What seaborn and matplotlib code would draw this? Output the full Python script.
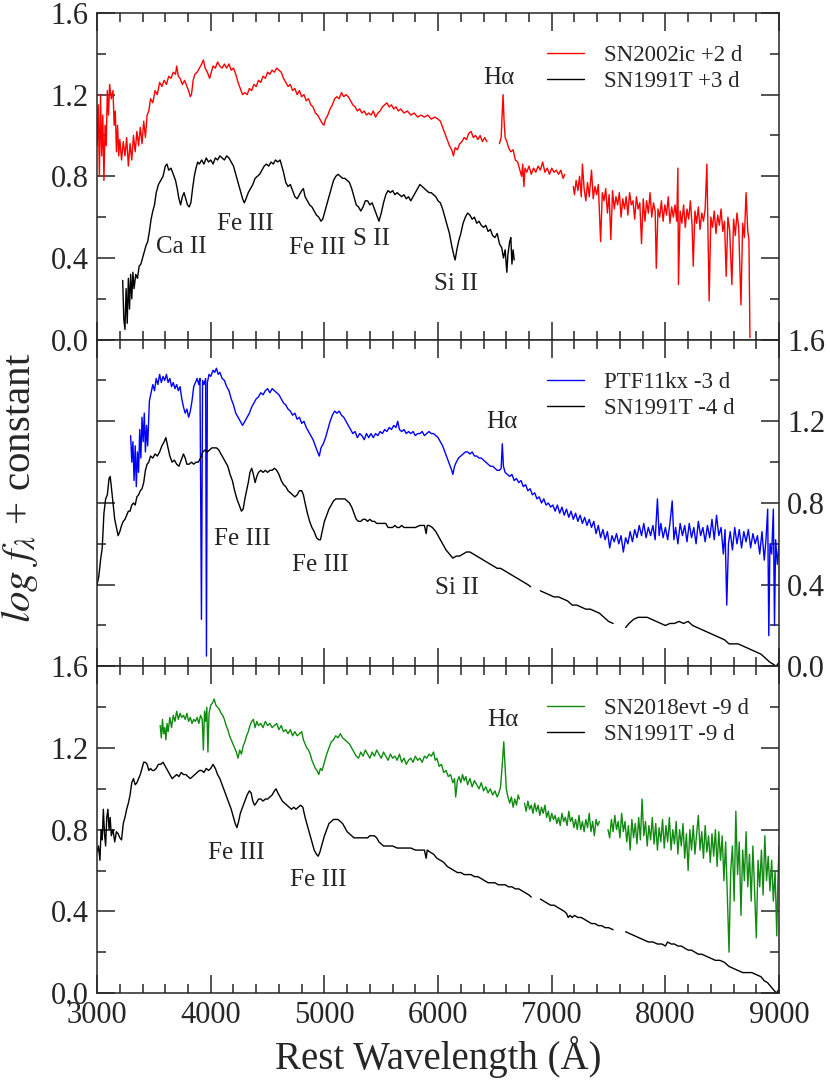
import numpy as np
import pandas as pd
import seaborn as sns
import matplotlib.pyplot as plt
from matplotlib.lines import Line2D
from matplotlib.ticker import MultipleLocator

nan = np.nan

# ---- top panel: SN2002ic +2 d and SN1991T +3 d ----
ic02_wave = [3000, 3010, 3020, 3030, 3040, 3050, 3060, 3070, 3080, 3090, 3100, 3110, 3125, 3140, 3150,
             3160, 3170, 3180, 3190, 3200, 3215, 3230, 3245, 3260, 3275, 3290, 3305, 3320, 3335, 3350,
             3365, 3380, 3395, 3410, 3425, 3440, 3455, 3470, 3490, 3510, 3530, 3550, 3570, 3590, 3610,
             3630, 3650, 3670, 3690, 3700, 3715, 3730, 3750, 3770, 3790, 3805, 3820, 3830, 3845, 3860,
             3880, 3900, 3920, 3935, 3950, 3970, 3990, 4005, 4020, 4040, 4060, 4080, 4100, 4120, 4140,
             4160, 4180, 4200, 4220, 4240, 4260, 4280, 4300, 4320, 4340, 4360, 4380, 4400, 4420, 4440,
             4460, 4480, 4500, 4520, 4540, 4560, 4580, 4600, 4620, 4640, 4660, 4680, 4700, 4720, 4740,
             4760, 4780, 4800, 4820, 4840, 4860, 4880, 4900, 4920, 4940, 4960, 4980, 4995, 5010, 5030,
             5050, 5070, 5090, 5110, 5130, 5150, 5170, 5190, 5210, 5230, 5250, 5270, 5290, 5310, 5330,
             5350, 5370, 5390, 5410, 5430, 5450, 5470, 5490, 5510, 5530, 5550, 5570, 5590, 5610, 5630,
             5650, 5670, 5700, 5730, 5760, 5790, 5820, 5850, 5880, 5910, 5940, 5970, 6000, 6020, 6040,
             6060, 6080, 6100, 6120, 6135, 6150, 6170, 6190, 6210, 6230, 6250, 6270, 6290, 6310, 6330,
             6350, 6370, 6390, 6410, 6430, nan,
             6540, 6555, 6565, 6572, 6580, 6590, 6605, 6620, 6640, 6660, 6680, 6700, 6720, 6735, 6745,
             6755, 6765, 6780, 6800, 6820, 6840, 6860, 6880, 6900, 6920, 6940, 6960, 6980, 7000, 7020,
             7040, 7060, 7080, 7100, 7115, nan,
             7190, 7200, 7215, 7230, 7245, 7260, 7270, 7285, 7300, 7315, 7330, 7350, 7365, 7380, 7395,
             7410, 7430, 7445, 7460, 7475, 7490, 7505, 7520, 7535, 7550, 7565, 7580, 7595, 7610, 7625,
             7640, 7655, 7670, 7685, 7700, 7715, 7730, 7745, 7760, 7775, 7790, 7805, 7820, 7835, 7850,
             7865, 7880, 7895, 7910, 7920, 7935, 7950, 7965, 7980, 7995, 8010, 8025, 8040, 8055, 8070,
             8085, 8100, 8110, 8115, 8130, 8145, 8160, 8175, 8190, 8205, 8220, 8235, 8245, 8260, 8275,
             8290, 8305, 8320, 8335, 8350, 8365, 8385, 8400, 8415, 8430, 8445, 8460, 8475, 8490, 8505,
             8520, 8535, 8550, 8565, 8585, 8600, 8615, 8630, 8645, 8665, 8680, 8695, 8710, 8725, 8735,
             8744]
ic02_flux = [0.95, 1.15, 0.80, 1.20, 0.90, 1.10, 0.78, 1.05, 0.95, 1.22, 1.10, 1.25, 1.18, 1.22, 1.05,
             1.12, 0.92, 1.05, 0.90, 0.98, 0.88, 0.97, 0.90, 0.99, 0.85, 0.96, 0.88, 1.00, 0.92, 1.02,
             0.95, 1.04, 0.96, 1.07, 0.99, 1.10, 1.12, 1.18, 1.16, 1.22, 1.20, 1.26, 1.24, 1.27, 1.25,
             1.29, 1.28, 1.31, 1.30, 1.34, 1.29, 1.28, 1.25, 1.27, 1.24, 1.22, 1.19, 1.20, 1.27, 1.30,
             1.31, 1.33, 1.35, 1.37, 1.33, 1.31, 1.28, 1.31, 1.34, 1.33, 1.36, 1.34, 1.33, 1.35, 1.33,
             1.35, 1.32, 1.33, 1.30, 1.26, 1.23, 1.20, 1.21, 1.20, 1.23, 1.22, 1.25, 1.24, 1.27, 1.26,
             1.29, 1.28, 1.31, 1.30, 1.32, 1.31, 1.33, 1.32, 1.31, 1.28, 1.26, 1.24, 1.25, 1.22, 1.23,
             1.20, 1.22, 1.19, 1.20, 1.17, 1.18, 1.15, 1.14, 1.11, 1.10, 1.08, 1.06, 1.05, 1.08, 1.10,
             1.13, 1.15, 1.18, 1.19, 1.18, 1.21, 1.19, 1.20, 1.19, 1.17, 1.15, 1.14, 1.12, 1.13, 1.11,
             1.12, 1.10, 1.11, 1.10, 1.12, 1.09, 1.11, 1.12, 1.14, 1.15, 1.16, 1.14, 1.15, 1.13, 1.14,
             1.12, 1.13, 1.11, 1.12, 1.10, 1.11, 1.09, 1.10, 1.09, 1.10, 1.08, 1.09, 1.08, 1.07, 1.04,
             1.01, 0.98, 0.95, 0.93, 0.90, 0.94, 0.93, 0.96, 0.97, 0.99, 0.98, 1.01, 1.02, 0.99, 1.00,
             0.98, 1.00, 0.97, 0.99, 0.97, nan,
             0.96, 0.99, 1.12, 1.20, 1.08, 0.99, 0.97, 0.94, 0.92, 0.93, 0.88, 0.87, 0.83, 0.80, 0.86,
             0.75, 0.84, 0.82, 0.85, 0.81, 0.84, 0.82, 0.85, 0.83, 0.87, 0.82, 0.84, 0.81, 0.84, 0.82,
             0.83, 0.81, 0.83, 0.79, 0.81, nan,
             0.75, 0.71, 0.78, 0.73, 0.80, 0.70, 0.86, 0.74, 0.68, 0.77, 0.70, 0.83, 0.69, 0.75, 0.71,
             0.76, 0.48, 0.72, 0.68, 0.74, 0.62, 0.71, 0.49, 0.73, 0.64, 0.70, 0.66, 0.72, 0.60, 0.69,
             0.64, 0.70, 0.61, 0.72, 0.66, 0.68, 0.59, 0.70, 0.64, 0.67, 0.47, 0.69, 0.58, 0.68, 0.62,
             0.72, 0.60, 0.67, 0.63, 0.35, 0.64, 0.60, 0.68, 0.58, 0.66, 0.61, 0.70, 0.57, 0.65, 0.60,
             0.66, 0.58, 0.84, 0.27, 0.63, 0.57, 0.66, 0.55, 0.64, 0.59, 0.68, 0.56, 0.36, 0.63, 0.57,
             0.65, 0.54, 0.62, 0.58, 0.64, 0.86, 0.19, 0.60, 0.55, 0.63, 0.52, 0.61, 0.56, 0.64, 0.53,
             0.58, 0.31, 0.60, 0.54, 0.27, 0.59, 0.51, 0.62, 0.55, 0.17, 0.57, 0.50, 0.72, 0.53, 0.49,
             0.01]

t91_p3_wave = [3225, 3235, 3245, 3255, 3265, 3275, 3285, 3295, 3305, 3315, 3325, 3340, 3355, 3370, 3385,
               3400, 3415, 3430, 3445, 3460, 3475, 3490, 3505, 3520, 3540, 3560, 3580, 3600, 3615, 3630,
               3650, 3670, 3690, 3705, 3720, 3735, 3750, 3765, 3780, 3795, 3810, 3825, 3840, 3855, 3870,
               3885, 3900, 3920, 3940, 3960, 3980, 4000, 4020, 4040, 4060, 4080, 4100, 4120, 4140, 4160,
               4180, 4200, 4220, 4240, 4260, 4280, 4295, 4310, 4330, 4350, 4370, 4390, 4410, 4430, 4450,
               4470, 4490, 4510, 4530, 4550, 4570, 4590, 4610, 4625, 4640, 4660, 4680, 4700, 4720, 4740,
               4760, 4780, 4800, 4815, 4830, 4850, 4870, 4890, 4910, 4930, 4950, 4970, 4985, 5000, 5020,
               5040, 5060, 5080, 5100, 5120, 5140, 5160, 5180, 5200, 5220, 5240, 5260, 5280, 5300, 5320,
               5340, 5360, 5380, 5400, 5420, 5440, 5460, 5480, 5500, 5520, 5540, 5560, 5580, 5600, 5620,
               5640, 5660, 5680, 5700, 5720, 5740, 5760, 5780, 5800, 5820, 5840, 5860, 5880, 5900, 5920,
               5940, 5960, 5980, 6000, 6020, 6040, 6060, 6080, 6100, 6120, 6140, 6150, 6165, 6180, 6200,
               6220, 6240, 6260, 6280, 6300, 6320, 6340, 6360, 6380, 6400, 6420, 6440, 6460, 6480, 6500,
               6520, 6540, 6560, 6575, 6590, 6605, 6615, 6630, 6640, 6650, 6660, 6670]
t91_p3_flux = [0.29, 0.10, 0.05, 0.25, 0.08, 0.30, 0.15, 0.32, 0.20, 0.33, 0.25, 0.32, 0.30, 0.36, 0.37,
               0.40, 0.43, 0.46, 0.48, 0.53, 0.59, 0.63, 0.66, 0.72, 0.76, 0.78, 0.80, 0.85, 0.86, 0.83,
               0.84, 0.81, 0.78, 0.74, 0.69, 0.66, 0.70, 0.72, 0.69, 0.66, 0.65, 0.67, 0.74, 0.80, 0.84,
               0.87, 0.86, 0.88, 0.86, 0.89, 0.87, 0.88, 0.86, 0.89, 0.88, 0.90, 0.89, 0.88, 0.90, 0.89,
               0.87, 0.85, 0.81, 0.77, 0.73, 0.69, 0.67, 0.69, 0.72, 0.74, 0.76, 0.79, 0.80, 0.81, 0.83,
               0.85, 0.86, 0.85, 0.87, 0.86, 0.88, 0.87, 0.88, 0.85, 0.82, 0.77, 0.75, 0.76, 0.73, 0.70,
               0.69, 0.71, 0.73, 0.74, 0.70, 0.68, 0.66, 0.65, 0.63, 0.61, 0.60, 0.58, 0.59, 0.62, 0.66,
               0.70, 0.74, 0.78, 0.80, 0.81, 0.80, 0.79, 0.79, 0.78, 0.77, 0.74, 0.70, 0.66, 0.65, 0.63,
               0.65, 0.68, 0.68, 0.66, 0.67, 0.64, 0.61, 0.58, 0.62, 0.67, 0.71, 0.73, 0.72, 0.73, 0.71,
               0.72, 0.71, 0.70, 0.71, 0.69, 0.70, 0.68, 0.70, 0.72, 0.74, 0.76, 0.75, 0.74, 0.73, 0.72,
               0.72, 0.71, 0.70, 0.68, 0.67, 0.64, 0.60, 0.56, 0.52, 0.46, 0.41, 0.39, 0.44, 0.48, 0.52,
               0.57, 0.60, 0.62, 0.61, 0.59, 0.60, 0.57, 0.58, 0.56, 0.55, 0.56, 0.53, 0.54, 0.51, 0.50,
               0.52, 0.47, 0.45, 0.40, 0.44, 0.33, 0.42, 0.48, 0.50, 0.37, 0.44, 0.39]

# ---- middle panel: PTF11kx -3 d and SN1991T -4 d ----
ptf_wave = [3295, 3305, 3315, 3325, 3335, 3345, 3355, 3365, 3375, 3385, 3395, 3405, 3415, 3425, 3435,
            3445, 3460, 3475, 3490, 3505, 3520, 3535, 3550, 3565, 3580, 3595, 3610, 3625, 3640, 3655,
            3670, 3685, 3700, 3715, 3730, 3745, 3760, 3775, 3790, 3805, 3820, 3835, 3850, 3865, 3880,
            3895, 3905, 3918, 3928, 3940, 3955, 3962, 3970, 3985, 4000, 4020, 4035, 4050, 4065, 4080,
            4100, 4120, 4140, 4160, 4180, 4200, 4220, 4240, 4260, 4280, 4300, 4320, 4340, 4360, 4380,
            4400, 4420, 4440, 4460, 4480, 4500, 4520, 4540, 4560, 4580, 4600, 4620, 4640, 4660, 4680,
            4700, 4720, 4740, 4760, 4780, 4800, 4820, 4840, 4860, 4880, 4900, 4920, 4940, 4955, 4970,
            4990, 5010, 5030, 5050, 5070, 5090, 5110, 5130, 5150, 5170, 5190, 5210, 5230, 5250, 5270,
            5290, 5310, 5330, 5350, 5370, 5390, 5410, 5430, 5450, 5470, 5490, 5510, 5530, 5550, 5570,
            5590, 5610, 5630, 5645, 5660, 5680, 5700, 5720, 5740, 5760, 5780, 5800, 5820, 5840, 5860,
            5880, 5900, 5920, 5940, 5960, 5980, 6000, 6020, 6040, 6060, 6080, 6100, 6120, 6130, 6145,
            6160, 6180, 6200, 6220, 6240, 6260, 6280, 6300, 6320, 6340, 6360, 6380, 6400, 6420, 6440,
            6460, 6480, 6500, 6520, 6540, 6555, 6565, 6575, 6590, 6610, 6630, 6650, 6670, 6690, 6710,
            6730, 6750, 6770, 6790, 6810, 6830, 6850, 6870, 6890, 6910, 6930, 6950, 6970, 6990, 7010,
            7030, 7050, 7070, 7090, 7110, 7130, 7150, 7170, 7190, 7210, 7230, 7250, 7270, 7290, 7310,
            7330, 7350, 7370, 7390, 7410, 7430, 7450, 7470, 7490, 7510, 7530, 7550, 7570, 7590, 7610,
            7630, 7650, 7670, 7690, 7710, 7730, 7750, 7770, 7790, 7810, 7830, 7850, 7870, 7890, 7910,
            7930, 7945, 7960, 7980, 8000, 8020, 8040, 8060, 8075, 8090, 8110, 8130, 8150, 8170, 8190,
            8210, 8230, 8250, 8270, 8290, 8310, 8330, 8350, 8370, 8390, 8410, 8430, 8450, 8470, 8490,
            8510, 8525, 8540, 8555, 8570, 8590, 8610, 8630, 8650, 8670, 8690, 8710, 8730, 8750, 8770,
            8790, 8810, 8830, 8850, 8870, 8885, 8900, 8910, 8920, 8935, 8950, 8960, 8970, 8985, 9000]
ptf_flux = [1.13, 1.00, 1.10, 0.91, 1.08, 0.88, 1.05, 0.95, 1.16, 1.02, 1.22, 1.10, 1.24, 1.05, 1.18,
            1.08, 1.30, 1.34, 1.38, 1.35, 1.41, 1.38, 1.43, 1.39, 1.42, 1.40, 1.43, 1.39, 1.41, 1.37,
            1.39, 1.36, 1.38, 1.35, 1.37, 1.31, 1.27, 1.24, 1.26, 1.22, 1.25, 1.30, 1.37, 1.39, 1.41,
            1.38, 1.41, 0.23, 1.40, 1.38, 1.41, 0.05, 1.39, 1.43, 1.42, 1.45, 1.44, 1.46, 1.43, 1.44,
            1.41, 1.40, 1.37, 1.35, 1.31, 1.28, 1.24, 1.22, 1.20, 1.18, 1.20, 1.22, 1.24, 1.27, 1.29,
            1.31, 1.32, 1.34, 1.33, 1.35, 1.36, 1.34, 1.36, 1.35, 1.34, 1.33, 1.31, 1.29, 1.28, 1.26,
            1.25, 1.23, 1.24, 1.21, 1.22, 1.19, 1.20, 1.17, 1.15, 1.13, 1.11, 1.08, 1.05, 1.03, 1.07,
            1.09, 1.12, 1.16, 1.20, 1.23, 1.25, 1.24, 1.25, 1.23, 1.22, 1.20, 1.18, 1.16, 1.14, 1.15,
            1.12, 1.14, 1.13, 1.11, 1.14, 1.12, 1.14, 1.12, 1.14, 1.13, 1.15, 1.14, 1.16, 1.15, 1.17,
            1.16, 1.18, 1.17, 1.20, 1.16, 1.15, 1.16, 1.14, 1.15, 1.14, 1.15, 1.13, 1.14, 1.14, 1.15,
            1.13, 1.14, 1.15, 1.14, 1.14, 1.13, 1.12, 1.10, 1.08, 1.05, 1.02, 0.99, 0.96, 0.94, 0.98,
            1.00, 1.02, 1.03, 1.04, 1.05, 1.05, 1.04, 1.05, 1.03, 1.03, 1.02, 1.02, 1.01, 1.00, 0.99,
            0.98, 0.98, 0.97, 0.96, 0.96, 0.97, 1.09, 0.98, 0.95, 0.94, 0.93, 0.94, 0.91, 0.92, 0.90,
            0.91, 0.88, 0.89, 0.86, 0.87, 0.84, 0.85, 0.82, 0.83, 0.80, 0.82, 0.79, 0.80, 0.78, 0.79,
            0.76, 0.79, 0.75, 0.78, 0.74, 0.77, 0.73, 0.76, 0.72, 0.75, 0.71, 0.74, 0.70, 0.73, 0.69,
            0.72, 0.68, 0.71, 0.65, 0.69, 0.63, 0.67, 0.62, 0.66, 0.58, 0.64, 0.61, 0.65, 0.60, 0.64,
            0.56, 0.63, 0.60, 0.66, 0.61, 0.67, 0.63, 0.69, 0.64, 0.70, 0.63, 0.68, 0.64, 0.69, 0.62,
            0.82, 0.64, 0.70, 0.63, 0.68, 0.62, 0.70, 0.81, 0.62, 0.68, 0.60, 0.70, 0.64, 0.69, 0.61,
            0.70, 0.63, 0.68, 0.60, 0.71, 0.64, 0.68, 0.61, 0.69, 0.63, 0.72, 0.62, 0.74, 0.64, 0.68,
            0.55, 0.67, 0.30, 0.60, 0.66, 0.57, 0.68, 0.60, 0.67, 0.58, 0.66, 0.61, 0.67, 0.58, 0.65,
            0.60, 0.64, 0.55, 0.66, 0.52, 0.62, 0.77, 0.15, 0.60, 0.55, 0.77, 0.20, 0.62, 0.50, 0.60]

t91_m4_wave = [3000, 3015, 3030, 3045, 3060, 3075, 3090, 3105, 3115, 3125, 3140, 3155, 3170, 3185, 3200,
               3215, 3230, 3245, 3260, 3275, 3290, 3305, 3320, 3335, 3350, 3365, 3380, 3395, 3410, 3425,
               3440, 3455, 3470, 3490, 3510, 3530, 3550, 3570, 3590, 3605, 3620, 3640, 3660, 3680, 3700,
               3720, 3740, 3760, 3775, 3790, 3810, 3830, 3850, 3870, 3890, 3910, 3930, 3950, 3970, 3990,
               4010, 4030, 4050, 4070, 4090, 4110, 4130, 4150, 4170, 4190, 4210, 4230, 4250, 4270, 4285,
               4300, 4315, 4330, 4345, 4360, 4375, 4390, 4405, 4420, 4440, 4460, 4480, 4500, 4520, 4540,
               4560, 4580, 4600, 4620, 4640, 4660, 4680, 4700, 4720, 4740, 4760, 4780, 4800, 4815, 4830,
               4850, 4870, 4890, 4910, 4930, 4950, 4965, 4980, 5000, 5020, 5040, 5060, 5080, 5100, 5120,
               5140, 5160, 5180, 5200, 5220, 5240, 5260, 5280, 5300, 5320, 5340, 5360, 5380, 5400, 5420,
               5440, 5460, 5480, 5500, 5520, 5540, 5560, 5580, 5600, 5620, 5640, 5660, 5680, 5700, 5720,
               5740, 5760, 5800, 5840, 5880, 5895, 5905, 5920, 5950, 5980, 6010, 6040, 6070, 6100, 6130,
               6160, 6190, 6220, 6250, 6280, 6310, 6340, 6370, 6400, 6430, 6460, 6490, 6520, 6550, 6580,
               6610, 6640, 6670, 6700, 6730, 6760, 6790, 6815, nan,
               6900, 6940, 6980, 7020, 7060, 7100, 7140, 7180, 7220, 7260, 7300, 7340, 7380, 7420, 7460,
               7500, 7540, nan,
               7650, 7680, 7720, 7760, 7800, 7840, 7880, 7920, 7960, 8000, 8040, 8080, 8120, 8160, 8200,
               8240, 8280, 8320, 8360, 8400, 8440, 8480, 8520, 8560, 8600, 8640, 8680, 8720, 8760, 8800,
               8840, 8880, 8920, 8950, 8975, 9000]
t91_m4_flux = [0.40, 0.44, 0.52, 0.58, 0.75, 0.82, 0.84, 0.92, 0.93, 0.88, 0.80, 0.72, 0.68, 0.64, 0.66,
               0.69, 0.71, 0.72, 0.74, 0.76, 0.76, 0.79, 0.80, 0.79, 0.83, 0.84, 0.86, 0.87, 0.90, 0.96,
               0.99, 1.00, 1.03, 1.02, 1.04, 1.03, 1.05, 1.08, 1.10, 1.12, 1.08, 1.03, 1.00, 1.01, 0.99,
               0.98, 1.01, 1.04, 1.02, 0.99, 0.99, 1.00, 0.99, 1.00, 1.00, 1.02, 1.05, 1.06, 1.05, 1.06,
               1.07, 1.07, 1.07, 1.06, 1.04, 1.02, 1.00, 0.98, 0.94, 0.91, 0.86, 0.82, 0.79, 0.76, 0.77,
               0.82, 0.86, 0.90, 0.95, 0.97, 0.94, 0.90, 0.93, 0.95, 0.96, 0.95, 0.96, 0.95, 0.96, 0.96,
               0.97, 0.96, 0.94, 0.91, 0.89, 0.88, 0.86, 0.85, 0.84, 0.83, 0.84, 0.86, 0.86, 0.84, 0.80,
               0.75, 0.71, 0.68, 0.66, 0.63, 0.62, 0.62, 0.66, 0.71, 0.74, 0.77, 0.79, 0.81, 0.82, 0.82,
               0.82, 0.82, 0.82, 0.81, 0.80, 0.78, 0.75, 0.72, 0.71, 0.71, 0.72, 0.72, 0.71, 0.72, 0.71,
               0.71, 0.70, 0.70, 0.70, 0.70, 0.70, 0.68, 0.68, 0.68, 0.69, 0.68, 0.68, 0.69, 0.68, 0.68,
               0.68, 0.68, 0.68, 0.69, 0.69, 0.65, 0.69, 0.69, 0.68, 0.66, 0.63, 0.60, 0.57, 0.55, 0.53,
               0.54, 0.54, 0.55, 0.56, 0.56, 0.55, 0.54, 0.53, 0.52, 0.51, 0.50, 0.49, 0.48, 0.48, 0.47,
               0.46, 0.45, 0.44, 0.43, 0.42, 0.41, 0.40, 0.39, nan,
               0.37, 0.36, 0.35, 0.34, 0.34, 0.33, 0.32, 0.30, 0.30, 0.29, 0.28, 0.28, 0.27, 0.26, 0.24,
               0.22, 0.21, nan,
               0.19, 0.21, 0.23, 0.24, 0.24, 0.24, 0.23, 0.22, 0.21, 0.20, 0.21, 0.21, 0.22, 0.21, 0.22,
               0.20, 0.19, 0.18, 0.17, 0.16, 0.15, 0.14, 0.13, 0.11, 0.11, 0.11, 0.10, 0.09, 0.08, 0.07,
               0.06, 0.04, 0.02, 0.01, 0.00, 0.02]

# ---- bottom panel: SN2018evt -9 d and SN1991T -9 d ----
evt_wave = [3555, 3565, 3575, 3585, 3595, 3605, 3615, 3625, 3640, 3655, 3670, 3685, 3700, 3715, 3730,
            3745, 3760, 3775, 3790, 3805, 3820, 3835, 3850, 3865, 3880, 3895, 3910, 3925, 3935, 3945,
            3955, 3965, 3975, 3985, 4000, 4015, 4030, 4045, 4060, 4075, 4090, 4105, 4120, 4135, 4150,
            4165, 4180, 4195, 4210, 4225, 4240, 4255, 4270, 4285, 4300, 4315, 4330, 4345, 4360, 4375,
            4390, 4405, 4420, 4440, 4460, 4480, 4500, 4520, 4540, 4560, 4580, 4600, 4620, 4640, 4660,
            4680, 4700, 4720, 4740, 4760, 4780, 4800, 4815, 4830, 4845, 4860, 4875, 4890, 4905, 4920,
            4935, 4950, 4965, 4980, 5000, 5020, 5040, 5060, 5080, 5100, 5120, 5140, 5160, 5180, 5200,
            5220, 5240, 5260, 5280, 5300, 5320, 5340, 5360, 5380, 5400, 5420, 5440, 5460, 5480, 5500,
            5520, 5540, 5560, 5580, 5600, 5620, 5640, 5660, 5680, 5700, 5720, 5740, 5760, 5780, 5800,
            5820, 5840, 5860, 5880, 5900, 5920, 5940, 5960, 5975, 5990, 6010, 6030, 6050, 6070, 6090,
            6110, 6130, 6145, 6155, 6170, 6185, 6200, 6215, 6230, 6245, 6260, 6280, 6300, 6320, 6340,
            6360, 6380, 6400, 6420, 6440, 6460, 6480, 6500, 6520, 6535, 6550, 6565, 6578, 6590, 6600,
            6615, 6630, 6645, 6660, 6675, 6690, 6705, 6715, nan,
            6760, 6775, 6790, 6805, 6820, 6835, 6850, 6865, 6880, 6895, 6910, 6925, 6940, 6955, 6970,
            6985, 7000, 7015, 7030, 7045, 7060, 7075, 7090, 7105, 7120, 7135, 7150, 7165, 7180, 7195,
            7210, 7225, 7240, 7255, 7270, 7285, 7300, 7315, 7330, 7345, 7360, 7375, 7390, 7405, 7420,
            nan,
            7495, 7510, 7525, 7540, 7555, 7570, 7585, 7600, 7615, 7630, 7645, 7660, 7675, 7690, 7705,
            7720, 7735, 7750, 7765, 7780, 7795, 7810, 7825, 7840, 7855, 7870, 7885, 7900, 7915, 7930,
            7945, 7960, 7975, 7990, 8005, 8020, 8035, 8050, 8065, 8080, 8095, 8110, 8125, 8140, 8155,
            8170, 8185, 8200, 8215, 8230, 8245, 8260, 8275, 8290, 8305, 8320, 8335, 8350, 8365, 8380,
            8395, 8410, 8425, 8440, 8455, 8470, 8485, 8500, 8515, 8530, 8545, 8560, 8575, 8590, 8605,
            8620, 8635, 8650, 8665, 8680, 8695, 8710, 8725, 8740, 8755, 8770, 8785, 8800, 8815, 8830,
            8845, 8860, 8875, 8890, 8905, 8920, 8935, 8950, 8965, 8980, 8990, 9000]
evt_flux = [1.31, 1.25, 1.34, 1.27, 1.30, 1.24, 1.32, 1.28, 1.35, 1.30, 1.36, 1.33, 1.38, 1.34, 1.37,
            1.35, 1.36, 1.34, 1.37, 1.33, 1.35, 1.32, 1.34, 1.33, 1.35, 1.32, 1.36, 1.34, 1.19, 1.38,
            1.33, 1.40, 1.18, 1.37, 1.41, 1.42, 1.44, 1.41, 1.40, 1.39, 1.37, 1.36, 1.34, 1.31, 1.29,
            1.26, 1.24, 1.22, 1.20, 1.18, 1.15, 1.19, 1.17, 1.21, 1.23, 1.26, 1.28, 1.31, 1.33, 1.34,
            1.30, 1.33, 1.31, 1.32, 1.30, 1.33, 1.31, 1.32, 1.30, 1.31, 1.32, 1.29, 1.31, 1.28, 1.29,
            1.27, 1.29, 1.26, 1.28, 1.26, 1.27, 1.28, 1.24, 1.22, 1.20, 1.19, 1.17, 1.14, 1.12, 1.10,
            1.09, 1.07, 1.10, 1.09, 1.13, 1.17, 1.20, 1.23, 1.24, 1.26, 1.25, 1.27, 1.25, 1.24, 1.23,
            1.22, 1.20, 1.18, 1.16, 1.15, 1.18, 1.16, 1.19, 1.17, 1.15, 1.18, 1.16, 1.19, 1.17, 1.15,
            1.18, 1.16, 1.14, 1.17, 1.15, 1.16, 1.14, 1.17, 1.13, 1.15, 1.12, 1.14, 1.15, 1.13, 1.16,
            1.14, 1.15, 1.13, 1.16, 1.15, 1.17, 1.16, 1.18, 1.14, 1.15, 1.11, 1.12, 1.08, 1.09, 1.06,
            1.07, 1.03, 1.05, 0.96, 1.04, 1.06, 1.03, 1.07, 1.04, 1.06, 1.02, 1.05, 1.01, 1.04, 1.02,
            1.00, 1.03, 0.99, 1.01, 0.98, 1.00, 0.97, 0.99, 0.96, 0.98, 1.01, 1.12, 1.23, 1.10, 1.00,
            0.96, 0.93, 0.96, 0.91, 0.95, 0.92, 0.97, 0.95, nan,
            0.93, 0.89, 0.94, 0.90, 0.92, 0.88, 0.93, 0.89, 0.92, 0.87, 0.91, 0.88, 0.92, 0.86, 0.89,
            0.84, 0.88, 0.85, 0.87, 0.83, 0.86, 0.82, 0.88, 0.84, 0.86, 0.82, 0.89, 0.84, 0.86, 0.81,
            0.85, 0.80, 0.87, 0.80, 0.84, 0.79, 0.85, 0.81, 0.88, 0.79, 0.84, 0.77, 0.85, 0.82, 0.84,
            nan,
            0.80, 0.76, 0.85, 0.79, 0.87, 0.80, 0.84, 0.76, 0.88, 0.79, 0.84, 0.74, 0.82, 0.70, 0.85,
            0.76, 0.83, 0.73, 0.86, 0.75, 0.95, 0.77, 0.84, 0.72, 0.82, 0.75, 0.86, 0.73, 0.83, 0.70,
            0.81, 0.74, 0.85, 0.71, 0.82, 0.74, 0.86, 0.70, 0.80, 0.73, 0.84, 0.68, 0.80, 0.72, 0.83,
            0.66, 0.78, 0.60, 0.80, 0.70, 0.82, 0.68, 0.78, 0.87, 0.70, 0.79, 0.66, 0.82, 0.69, 0.77,
            0.64, 0.78, 0.67, 0.80, 0.62, 0.79, 0.65, 0.77, 0.55, 0.74, 0.48, 0.20, 0.60, 0.72, 0.45,
            0.89, 0.58, 0.74, 0.38, 0.70, 0.55, 0.79, 0.52, 0.68, 0.45, 0.72, 0.50, 0.27, 0.65, 0.52,
            0.70, 0.48, 0.77, 0.55, 0.67, 0.50, 0.65, 0.45, 0.60, 0.28, 0.55, 0.72]

t91_m9_wave = [3000, 3012, 3025, 3035, 3045, 3055, 3065, 3075, 3085, 3095, 3105, 3115, 3125, 3140, 3155,
               3170, 3185, 3200, 3215, 3230, 3245, 3260, 3275, 3290, 3305, 3320, 3335, 3350, 3365, 3380,
               3395, 3410, 3425, 3440, 3455, 3470, 3485, 3500, 3520, 3540, 3560, 3580, 3600, 3620, 3640,
               3660, 3680, 3700, 3720, 3740, 3760, 3780, 3800, 3820, 3840, 3860, 3880, 3900, 3920, 3940,
               3960, 3980, 4000, 4020, 4040, 4060, 4080, 4100, 4120, 4140, 4160, 4180, 4200, 4215, 4230,
               4245, 4260, 4280, 4300, 4320, 4340, 4355, 4370, 4385, 4400, 4420, 4440, 4460, 4480, 4500,
               4520, 4540, 4560, 4575, 4590, 4610, 4630, 4650, 4670, 4690, 4710, 4730, 4750, 4770, 4790,
               4810, 4830, 4850, 4870, 4890, 4910, 4930, 4945, 4960, 4980, 5000, 5020, 5040, 5060, 5080,
               5100, 5120, 5140, 5160, 5180, 5200, 5220, 5240, 5260, 5280, 5300, 5320, 5340, 5360, 5380,
               5400, 5420, 5440, 5460, 5480, 5500, 5520, 5540, 5560, 5600, 5640, 5680, 5720, 5760, 5800,
               5840, 5880, 5895, 5905, 5930, 5960, 5990, 6020, 6050, 6080, 6110, 6140, 6170, 6200, 6230,
               6260, 6290, 6320, 6350, 6380, 6410, 6440, 6470, 6500, 6530, 6560, 6590, 6620, 6650, 6680,
               6710, 6740, 6770, 6800, 6820, nan,
               6900, 6930, 6960, 6990, 7020, 7050, 7080, 7110, 7130, 7145, 7160, 7180, 7200, 7230, 7260,
               7290, 7320, 7350, 7380, 7410, 7440, 7470, 7500, 7540, nan,
               7650, 7690, 7730, 7770, 7810, 7850, 7890, 7930, 7970, 8000, 8020, 8050, 8080, 8110, 8140,
               8170, 8200, 8230, 8260, 8290, 8320, 8360, 8400, 8440, 8480, 8520, 8560, 8600, 8640, 8680,
               8720, 8760, 8800, 8840, 8870, 8900, 8930, 8960, 8980, 9000]
t91_m9_flux = [0.69, 0.72, 0.65, 0.80, 0.75, 0.90, 0.78, 0.72, 0.86, 0.90, 0.80, 0.86, 0.77, 0.80, 0.74,
               0.79, 0.78, 0.76, 0.75, 0.83, 0.86, 0.90, 0.93, 0.97, 1.03, 1.05, 1.02, 1.03, 1.05, 1.07,
               1.10, 1.13, 1.13, 1.12, 1.09, 1.10, 1.09, 1.09, 1.10, 1.12, 1.12, 1.13, 1.11, 1.09, 1.07,
               1.05, 1.06, 1.07, 1.06, 1.08, 1.07, 1.07, 1.06, 1.05, 1.06, 1.07, 1.08, 1.09, 1.09, 1.08,
               1.10, 1.09, 1.10, 1.12, 1.10, 1.07, 1.05, 1.02, 0.99, 0.96, 0.93, 0.90, 0.86, 0.83, 0.81,
               0.84, 0.88, 0.91, 0.94, 0.97, 0.99, 0.98, 0.94, 0.92, 0.93, 0.95, 0.95, 0.94, 0.95, 0.95,
               0.96, 0.97, 0.99, 1.00, 0.98, 0.96, 0.94, 0.93, 0.92, 0.91, 0.90, 0.91, 0.90, 0.91, 0.92,
               0.91, 0.86, 0.82, 0.78, 0.74, 0.70, 0.68, 0.67, 0.69, 0.73, 0.77, 0.80, 0.83, 0.84, 0.85,
               0.85, 0.85, 0.84, 0.83, 0.81, 0.79, 0.78, 0.77, 0.76, 0.76, 0.76, 0.76, 0.76, 0.76, 0.76,
               0.77, 0.77, 0.77, 0.76, 0.74, 0.73, 0.72, 0.72, 0.72, 0.72, 0.71, 0.71, 0.71, 0.71, 0.70,
               0.70, 0.70, 0.66, 0.70, 0.69, 0.68, 0.66, 0.65, 0.64, 0.62, 0.61, 0.60, 0.59, 0.59, 0.58,
               0.58, 0.58, 0.57, 0.57, 0.56, 0.55, 0.54, 0.54, 0.54, 0.53, 0.53, 0.53, 0.52, 0.52, 0.51,
               0.51, 0.50, 0.49, 0.48, 0.47, nan,
               0.46, 0.45, 0.44, 0.43, 0.43, 0.42, 0.41, 0.40, 0.39, 0.37, 0.38, 0.37, 0.38, 0.37, 0.37,
               0.36, 0.35, 0.34, 0.34, 0.33, 0.33, 0.32, 0.32, 0.31, nan,
               0.30, 0.29, 0.28, 0.27, 0.26, 0.25, 0.25, 0.24, 0.24, 0.23, 0.25, 0.24, 0.24, 0.23, 0.23,
               0.22, 0.21, 0.21, 0.20, 0.19, 0.19, 0.18, 0.17, 0.16, 0.16, 0.15, 0.13, 0.12, 0.11, 0.10,
               0.10, 0.10, 0.09, 0.08, 0.06, 0.05, 0.03, 0.01, 0.00, 0.02]

legend_labels = [["SN2002ic +2 d", "SN1991T +3 d"],
                 ["PTF11kx -3 d", "SN1991T -4 d"],
                 ["SN2018evt -9 d", "SN1991T -9 d"]]

# line identifications: (text, wavelength, y) per panel
top_lines = [("Ca II", 3740, 0.455), ("Fe III", 4300, 0.568), ("Fe III", 4935, 0.45),
             ("S II", 5410, 0.494), ("Si II", 6157, 0.274), ("H\u03b1", 6536, 1.282)]
mid_lines = [("Fe III", 4275, 0.625), ("Fe III", 4961, 0.497), ("Si II", 6166, 0.384),
             ("H\u03b1", 6562, 1.196)]
bot_lines = [("Fe III", 4223, 0.687), ("Fe III", 4944, 0.555), ("H\u03b1", 6570, 1.335)]


def spectrum_frame(wave, flux):
    df = pd.DataFrame({"wave": wave, "flux": flux})
    df["seg"] = df["wave"].isna().cumsum()
    return df.dropna()


def draw(ax, wave, flux, color):
    sns.lineplot(data=spectrum_frame(wave, flux), x="wave", y="flux", units="seg",
                 estimator=None, sort=False, color=color, lw=1.0, ax=ax, legend=False)


sns.set_style("ticks")
plt.rcParams['font.family'] = ['Liberation Serif', 'DejaVu Serif']
plt.rcParams['mathtext.fontset'] = 'stix'

fig, axes = plt.subplots(3, 1, figsize=(8.3, 10.81), dpi=100, sharex=True)
fig.subplots_adjust(left=0.117, right=0.9386, top=0.988, bottom=0.0814, hspace=0)

panels = [
    (ic02_wave, ic02_flux, "#ff0000", t91_p3_wave, t91_p3_flux, top_lines),
    (ptf_wave, ptf_flux, "#0000ff", t91_m4_wave, t91_m4_flux, mid_lines),
    (evt_wave, evt_flux, "#108a10", t91_m9_wave, t91_m9_flux, bot_lines),
]

for i, (ax, (w1, f1, c1, w2, f2, marks)) in enumerate(zip(axes, panels)):
    draw(ax, w1, f1, c1)
    draw(ax, w2, f2, "black")
    ax.set_xlim(3000, 9000)
    ax.set_ylim(0, 1.6)
    ax.xaxis.set_major_locator(MultipleLocator(1000))
    ax.xaxis.set_minor_locator(MultipleLocator(200))
    ax.yaxis.set_major_locator(MultipleLocator(0.4))
    ax.yaxis.set_minor_locator(MultipleLocator(0.2))
    ax.yaxis.set_major_formatter(plt.FormatStrFormatter("%.1f"))
    ax.tick_params(which="both", direction="in", top=True, right=True, width=1.1,
                   labelsize=22, pad=6)
    ax.tick_params(which="major", length=13)
    ax.tick_params(which="minor", length=6.5)
    for sp in ax.spines.values():
        sp.set_linewidth(1.1)
    ax.set_xlabel("")
    ax.set_ylabel("")
    if i == 1:
        ax.tick_params(axis="y", labelleft=False, labelright=True)
    for txt, x, y in marks:
        ax.text(x, y, txt, fontsize=18, ha="center", va="center")
    handles = [Line2D([], [], color=c1, lw=1.0), Line2D([], [], color="black", lw=1.0)]
    ax.legend(handles, legend_labels[i], loc="upper left", bbox_to_anchor=(0.66, 0.902),
              frameon=False, fontsize=16.5, handlelength=1.6, handletextpad=0.9,
              labelspacing=0.21, borderpad=0, borderaxespad=0)

axes[2].set_xlabel("Rest Wavelength (\u00c5)", fontsize=28, labelpad=4)
fig.text(0.024, 0.549, r"$log\ f_{\lambda}$ + constant", rotation=90,
         ha="center", va="center", fontsize=29.5)

fig.savefig("out.png", dpi=100)
